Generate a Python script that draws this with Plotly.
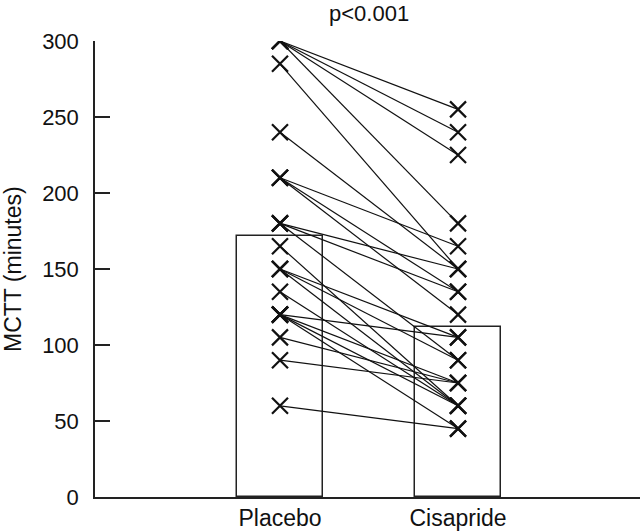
import plotly.graph_objects as go

# Paired MCTT values (minutes), one entry per subject
placebo = [300, 300, 300, 300, 285, 240, 210, 210, 210, 180, 180, 180,
           165, 150, 150, 150, 135, 120, 120, 120, 120, 105, 90, 60]
cisapride = [255, 240, 225, 180, 150, 150, 165, 135, 120, 150, 135, 90,
             60, 105, 90, 60, 60, 105, 75, 60, 45, 75, 75, 45]

groups = ["Placebo", "Cisapride"]
group_pos = [0, 1]
bar_values = [172, 112]
p_text = "p<0.001"
y_ticks = [0, 50, 100, 150, 200, 250, 300]

FONT = "Liberation Sans, Arial, Helvetica, sans-serif"
INK = "#111"

fig = go.Figure()

fig.add_trace(go.Bar(
    x=group_pos, y=bar_values, width=0.478,
    marker=dict(color="white", line=dict(color="#222", width=1.5)),
    hoverinfo="skip", showlegend=False,
))

lx, ly = [], []
for a, b in zip(placebo, cisapride):
    lx += [group_pos[0], group_pos[1], None]
    ly += [a, b, None]
fig.add_trace(go.Scatter(
    x=lx, y=ly, mode="lines",
    line=dict(color=INK, width=1.2),
    showlegend=False, hoverinfo="skip",
))

mx = [group_pos[0]] * len(placebo) + [group_pos[1]] * len(cisapride)
my = placebo + cisapride
fig.add_trace(go.Scatter(
    x=mx, y=my, mode="markers",
    marker=dict(symbol="x-thin", size=16, line=dict(color=INK, width=2.2)),
    showlegend=False,
))

fig.add_annotation(
    x=0.5, xref="x", y=1, yref="paper", yanchor="bottom", yshift=13,
    text=p_text, showarrow=False, font=dict(family=FONT, size=22, color=INK),
)
fig.add_annotation(
    x=0, xref="paper", xanchor="center", xshift=-82,
    y=0.5, yref="paper", yanchor="middle", textangle=-90,
    text="MCTT (minutes)", showarrow=False,
    font=dict(family=FONT, size=23, color=INK),
)

fig.update_layout(
    width=640, height=531,
    margin=dict(l=95, r=0, t=41, b=34, autoexpand=False),
    paper_bgcolor="white", plot_bgcolor="white",
    font=dict(family=FONT, size=22, color=INK),
    bargap=0,
)
fig.update_xaxes(
    range=[-1.039, 2.022], tickvals=group_pos, ticktext=groups,
    showline=True, linecolor="#222", linewidth=1.5,
    showgrid=False, zeroline=False, ticks="", automargin=False,
    tickfont=dict(size=23), ticklabelstandoff=0,
)
fig.update_yaxes(
    range=[0, 300], tickvals=y_ticks,
    showline=True, linecolor="#222", linewidth=1.5,
    showgrid=False, zeroline=False, automargin=False,
    ticks="inside", ticklen=15, tickwidth=1.5, tickcolor="#222",
    ticklabelstandoff=10,
    tickfont=dict(size=22),
)

fig.write_html("out.html", config={"displayModeBar": False},
               post_script="document.body.style.margin='0';")
